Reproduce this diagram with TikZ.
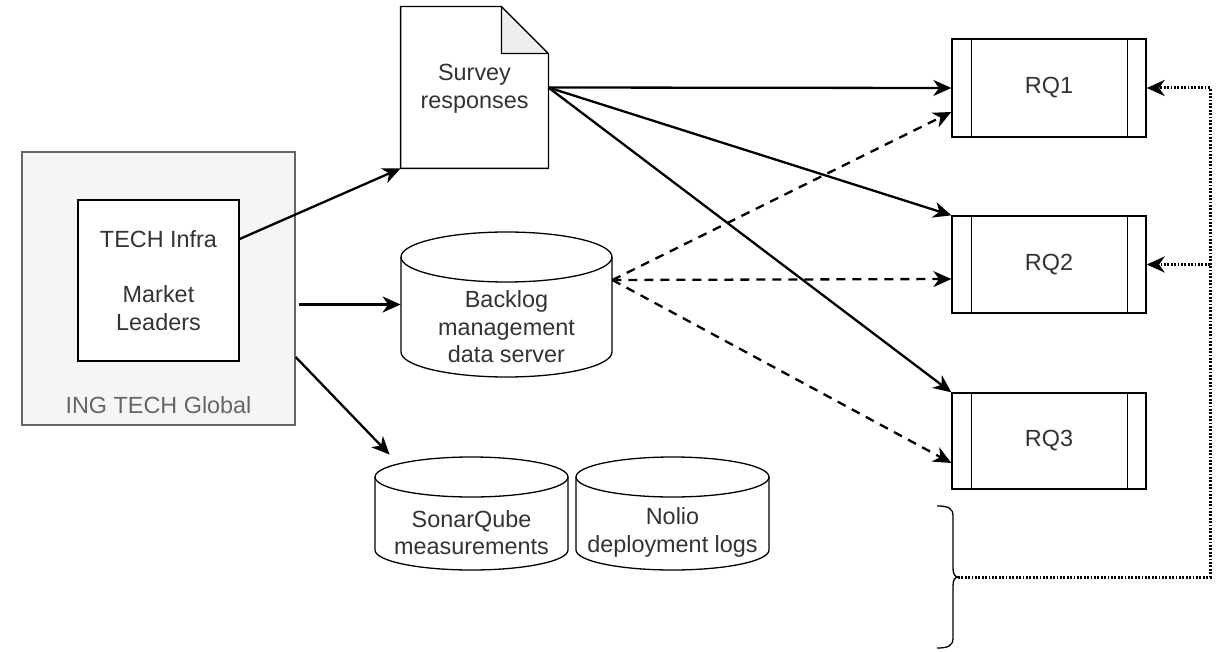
\documentclass[tikz,border=0pt]{standalone}
\usepackage{fontspec}
\setmainfont{Liberation Sans}
\usetikzlibrary{arrows.meta,calc}
\definecolor{txt}{HTML}{333333}
\definecolor{grp}{HTML}{F5F5F5}
\definecolor{grpline}{HTML}{666666}
\definecolor{fold}{HTML}{EEEEEE}
\begin{document}
\begin{tikzpicture}[x=0.5pt,y=-0.5pt,
  font=\fontsize{11.7pt}{13.8pt}\selectfont, text=txt,
  shapeline/.style={draw=black, line width=0.65pt},
  box/.style={shapeline, fill=white, inner sep=0pt},
  ghost/.style={inner sep=0pt},
  lbl/.style={align=center, text=txt, inner sep=0pt},
  arr/.style={-{Stealth[length=9pt,width=8pt,inset=2.8pt]}, line width=1.15pt},
  dasharr/.style={arr, dash pattern=on 4.5pt off 3.5pt},
  dotarr/.style={arr, line width=1.5pt, dash pattern=on 0.9pt off 0.8pt}]
\useasboundingbox (0,0) rectangle (1225,652);

% group box
\node[draw=grpline, fill=grp, line width=0.65pt, inner sep=0pt, minimum width=136.5pt, minimum height=136.5pt] (outer) at (158.5,288.5) {};
\node[lbl, text=grpline] (inglbl) at (158.5,405) {ING TECH Global};
\node[box, minimum width=80.5pt, minimum height=80.5pt, align=center] (inner) at (158.5,280.5) {TECH Infra\\[13.8pt]Market\\Leaders};

% survey document
\node[ghost, minimum width=73.5pt, minimum height=80.5pt] (survey) at (474.5,87.5) {};
\draw[shapeline, fill=white] (survey.south west) -- (survey.north west) -- ([xshift=-23.5pt]survey.north east) -- ([yshift=-23.5pt]survey.north east) -- (survey.south east) -- cycle;
\draw[shapeline, fill=fold, line join=round] ([xshift=-23.5pt]survey.north east) -- ([yshift=-23.5pt]survey.north east) -- ([xshift=-23.5pt,yshift=-23.5pt]survey.north east) -- cycle;
\node[lbl] (surveytxt) at (474.5,89) {Survey\\responses};

% backlog cylinder
\node[ghost, minimum width=105.5pt, minimum height=72.5pt] (backlog) at (506.5,304.5) {};
\draw[shapeline, fill=white] (401,257) -- (401,352) arc[start angle=180, end angle=360, x radius=52.75pt, y radius=12.5pt] -- (612,257) arc[start angle=0, end angle=180, x radius=52.75pt, y radius=12.5pt] -- cycle;
\draw[shapeline] (401,257) arc[start angle=180, end angle=360, x radius=52.75pt, y radius=12.5pt];
\node[lbl] (backlogtxt) at (506.5,327) {Backlog\\management\\data server};

% sonarqube cylinder
\node[ghost, minimum width=96.5pt, minimum height=56.5pt] (sonar) at (471.5,513.5) {};
\draw[shapeline, fill=white] (375,477) -- (375,550) arc[start angle=180, end angle=360, x radius=48.25pt, y radius=10pt] -- (568,477) arc[start angle=0, end angle=180, x radius=48.25pt, y radius=10pt] -- cycle;
\draw[shapeline] (375,477) arc[start angle=180, end angle=360, x radius=48.25pt, y radius=10pt];
\node[lbl] (sonartxt) at (471.5,532.5) {SonarQube\\measurements};

% nolio cylinder
\node[ghost, minimum width=96.5pt, minimum height=56.5pt] (nolio) at (672.5,513.5) {};
\draw[shapeline, fill=white] (576,477) -- (576,550) arc[start angle=180, end angle=360, x radius=48.25pt, y radius=10pt] -- (769,477) arc[start angle=0, end angle=180, x radius=48.25pt, y radius=10pt] -- cycle;
\draw[shapeline] (576,477) arc[start angle=180, end angle=360, x radius=48.25pt, y radius=10pt];
\node[lbl] (noliotxt) at (672.5,532.5) {Nolio\\deployment logs};

% RQ boxes
\foreach \n/\y/\h in {1/88/49pt, 2/264.5/48.5pt, 3/441/48pt}{
  \node[box, minimum width=97pt, minimum height=\h] (rq\n) at (1049,\y) {RQ\n};
  \draw[shapeline] ([xshift=10pt]rq\n.north west) -- ([xshift=10pt]rq\n.south west);
  \draw[shapeline] ([xshift=-9.5pt]rq\n.north east) -- ([xshift=-9.5pt]rq\n.south east);
}

% brace
\coordinate (bt) at (958,577);
\draw[shapeline] (937,506) .. controls (948,506) and (953,508) .. (953,516) -- (953,568) .. controls (953,574) and (955,577) .. (bt) .. controls (955,577) and (953,580) .. (953,586) -- (953,638) .. controls (953,646) and (948,648) .. (937,648);

% connectors from group
\draw[arr] ([yshift=20.75pt]inner.east) -- (survey.south west);
\draw[arr] ([xshift=1.5pt]outer.east |- backlog.west) -- (backlog.west);
\draw[arr] ([yshift=-34.25pt]outer.east) -- ([xshift=7.5pt,yshift=1pt]sonar.north west);

% survey to RQs
\draw[arr] (survey.east) -- (rq1.west);
\draw[arr] (survey.east) -- (rq2.north west);
\draw[arr] (survey.east) -- (rq3.north west);

% backlog to RQs
\coordinate (bs) at ([yshift=12.25pt]backlog.east);
\draw[dasharr] (bs) -- ([yshift=-12pt]rq1.west);
\draw[dasharr] (bs) -- ([yshift=-7.25pt]rq2.west);
\draw[dasharr] (bs) -- ([yshift=-11pt]rq3.west);

% dotted feedback
\coordinate (cr) at (1210,577);
\draw[dotarr] (bt) -- (cr) -- (cr |- rq1.east) -- (rq1.east);
\draw[dotarr] (cr |- rq2.east) -- (rq2.east);
\end{tikzpicture}
\end{document}
